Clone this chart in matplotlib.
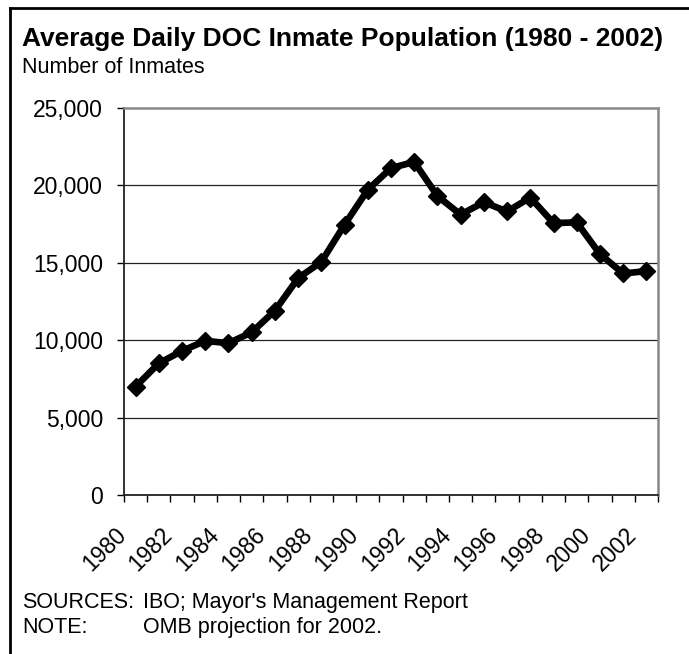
import numpy as np
import matplotlib
matplotlib.use("Agg")
import matplotlib.pyplot as plt
import matplotlib.transforms as mtransforms
from matplotlib.lines import Line2D

plt.rcParams['font.family'] = ['Liberation Sans', 'DejaVu Sans']

years = list(range(1980, 2003))
inmates = [7000, 8500, 9300, 9950, 9800, 10500, 11900, 14000, 15050, 17450,
           19700, 21100, 21500, 19300, 18100, 18900, 18300, 19200, 17550,
           17600, 15550, 14300, 14450]
y_ticks = [0, 5000, 10000, 15000, 20000, 25000]

TITLE = "Average Daily DOC Inmate Population (1980 - 2002)"
SUBTITLE = "Number of Inmates"


def plot_data():
    fig = plt.figure(figsize=(6.89, 6.54), dpi=100)
    ax = fig.add_axes([124 / 689, 1 - 495 / 654, 534 / 689, (495 - 107.7) / 654])

    x = np.arange(len(years))
    for yv in y_ticks[1:-1]:
        ax.axhline(yv, color='#222222', lw=0.9, zorder=1)
    ax.plot(x, inmates, color='black', lw=4.8, marker='D', ms=9.5,
            mec='black', mfc='black', solid_joinstyle='miter', zorder=3)

    ax.set_xlim(-0.5, len(years) - 0.5)
    ax.set_ylim(0, 25000)
    ax.set_yticks(y_ticks)
    ax.set_yticklabels([f"{v:,}" for v in y_ticks], fontsize=16.5)
    ax.tick_params(axis='y', direction='out', length=5, width=1, pad=10)

    # labels every other year at category centres, tick marks at the boundaries
    ax.set_xticks(x[::2])
    ax.set_xticklabels([str(yr) for yr in years[::2]], fontsize=16.5,
                       rotation=45, ha='right', va='center', rotation_mode='anchor')
    ax.tick_params(axis='x', which='major', length=0, pad=26)
    shift = mtransforms.ScaledTranslation(-13 / 100, 0, fig.dpi_scale_trans)
    for lbl in ax.get_xticklabels():
        lbl.set_transform(lbl.get_transform() + shift)
    ax.set_xticks(np.arange(-0.5, len(years)), minor=True)
    ax.tick_params(axis='x', which='minor', direction='out', length=5, width=1)

    for side in ['left', 'bottom']:
        ax.spines[side].set_color('#222222')
        ax.spines[side].set_linewidth(1.3)
    for side in ['top', 'right']:
        ax.spines[side].set_color('#888888')
        ax.spines[side].set_linewidth(1.8)

    fig.text(22 / 689, 1 - 46 / 654, TITLE, fontsize=19, fontweight='bold', va='baseline')
    fig.text(22 / 689, 1 - 73 / 654, SUBTITLE, fontsize=15.5, va='baseline')
    fig.text(22 / 689, 1 - 608 / 654, "SOURCES:", fontsize=15.5, va='baseline')
    fig.text(143 / 689, 1 - 608 / 654, "IBO; Mayor's Management Report",
             fontsize=15.5, va='baseline')
    fig.text(22 / 689, 1 - 633 / 654, "NOTE:", fontsize=15.5, va='baseline')
    fig.text(143 / 689, 1 - 633 / 654, "OMB projection for 2002.", fontsize=15.5, va='baseline')

    # outer frame (only the top and left edges fall inside the picture)
    fig.add_artist(Line2D([10 / 689, 10 / 689], [0, 1 - 8 / 654], color='black', lw=2))
    fig.add_artist(Line2D([10 / 689, 1], [1 - 8 / 654, 1 - 8 / 654], color='black', lw=2))

    fig.savefig("out.png", dpi=100)


if __name__ == '__main__':
    plot_data()
